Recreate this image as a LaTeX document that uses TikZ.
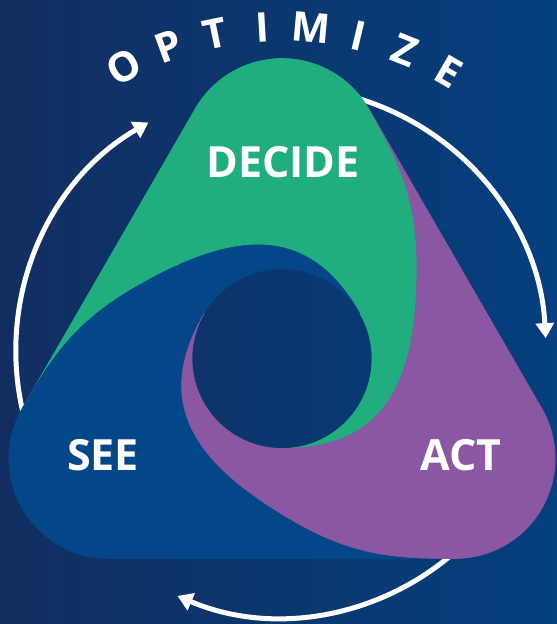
\documentclass[tikz,border=0pt]{standalone}
\usepackage{fontspec}
\setmainfont{Open Sans}
\usetikzlibrary{arrows.meta}
\definecolor{bgL}{RGB}{18,46,96}
\definecolor{bgR}{RGB}{4,63,126}
\definecolor{lgreen}{RGB}{32,174,127}
\definecolor{lblue}{RGB}{3,71,137}
\definecolor{lpurple}{RGB}{139,87,163}
\begin{document}
\begin{tikzpicture}[x=1pt,y=1pt,
  cyc/.style={white, line width=5pt, -{Triangle[length=15pt,width=18pt]}},
  lbl/.style={text=white, font=\fontsize{43}{43}\selectfont\bfseries, inner sep=0pt},
  opt/.style={text=white, font=\fontsize{41}{41}\selectfont\bfseries, inner sep=0pt},
  lobe/.style={line width=0.6pt}]
\useasboundingbox (-282,-265.5) rectangle (275,358.5);
\shade[left color=bgL, right color=bgR] (-282,-265.5) rectangle (275,358.5);
% cycle arrows
\draw[cyc] ([shift={(200:265)}]-1,6.5) arc[start angle=200, end angle=120, radius=265];
\draw[cyc] ([shift={(80:265)}]-1,6.5) arc[start angle=80, end angle=3, radius=265];
\draw[cyc] ([shift={(-40:265)}]-1,6.5) arc[start angle=-40, end angle=-113, radius=265];
% lobes
\foreach \ang/\col in {0/lgreen,120/lblue,240/lpurple}{
  \filldraw[lobe, fill=\col, draw=\col, rotate=\ang]
    (-259.8,-50) -- (-86.6,250)
    arc[start angle=150, end angle=30, radius=100]
    .. controls (116.6,198) and (135,161) .. (135,91)
    .. controls (135,-29) and (100,-90) .. (0,-90)
    arc[start angle=-90, end angle=30, radius=90]
    .. controls (27.9,131.6) and (-42.4,131.4) .. (-146.3,71.4)
    .. controls (-206.9,36.4) and (-229.8,2.0) .. (-259.8,-50) -- cycle;
}
% labels
\node[lbl] (decide) at (1,196.5) {DECIDE};
\node[lbl] (see) at (-179,-96.5) {SEE};
\node[lbl] (act) at (179,-96.5) {ACT};
\foreach \l/\a [count=\i] in {O/118.4,P/110.0,T/101.7,I/93.3,M/84.9,I/76.6,Z/68.2,E/59.8}{
  \node[opt, rotate=\a-90] (opt\i) at (\a:332) {\l};
}
\end{tikzpicture}
\end{document}
